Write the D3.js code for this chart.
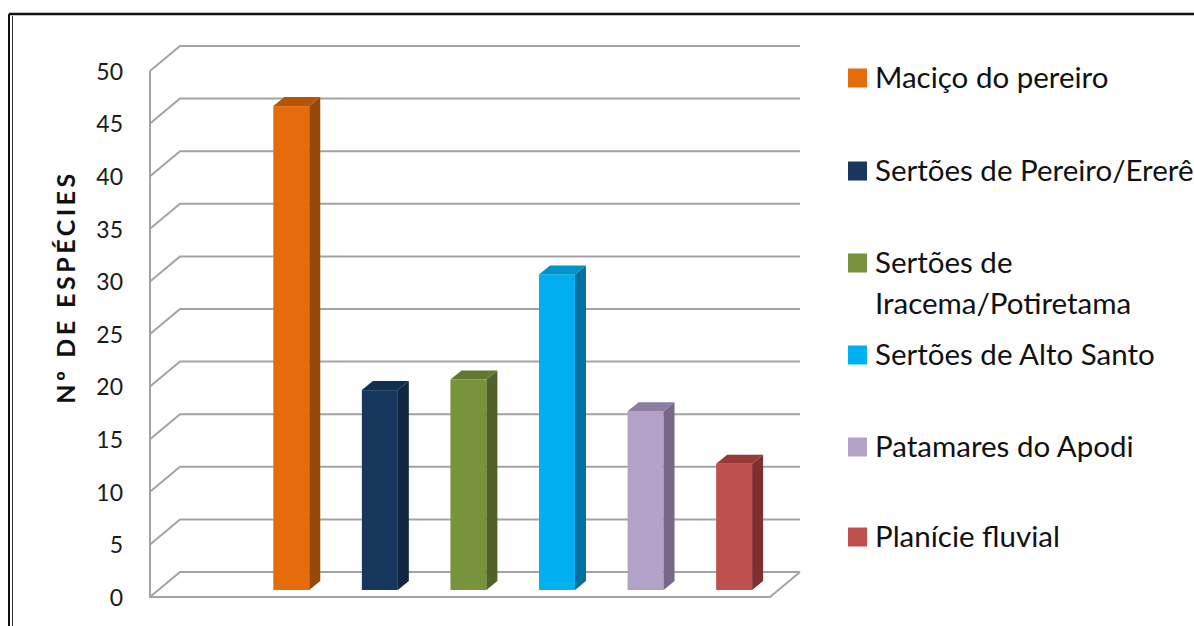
<!DOCTYPE html>
<html>
<head>
<meta charset="UTF-8">
<title>Nº de espécies</title>
<script src="https://d3js.org/d3.v7.min.js"></script>
<style>
  body { margin: 0; background: #fff; }
  svg { display: block; font-family: Lato, "Open Sans", sans-serif; }
  .grid { stroke: #a3a3a3; stroke-width: 2; fill: none; }
  .ticks text { font-family: Lato, sans-serif; font-size: 23px; fill: #1a1a1a; }
  .legend text { font-size: 29.5px; fill: #111; }
</style>
</head>
<body>
<svg width="1194" height="626"></svg>
<script>
// data
const categories = ["Maciço do pereiro", "Sertões de Pereiro/Ererê", "Sertões de Iracema/Potiretama",
                    "Sertões de Alto Santo", "Patamares do Apodi", "Planície fluvial"];
const especies = [46, 19, 20, 30, 17, 12];
const yTicks = [0, 5, 10, 15, 20, 25, 30, 35, 40, 45, 50];
const legendLines = [["Maciço do pereiro"], ["Sertões de Pereiro/Ererê"], ["Sertões de", "Iracema/Potiretama"],
                     ["Sertões de Alto Santo"], ["Patamares do Apodi"], ["Planície fluvial"]];
const front = ["#e46c0a", "#17375e", "#77933c", "#00b0f0", "#b3a2c7", "#c0504d"];
const side  = ["#974806", "#10253f", "#4f6228", "#00719c", "#776888", "#7f302e"];
const top_  = ["#b45608", "#132f50", "#617a30", "#0093c8", "#8c7ca0", "#963a37"];

const svg = d3.select("svg");

// frame
svg.append("line").attr("x1", 9).attr("x2", 1194).attr("y1", 14).attr("y2", 14)
  .attr("stroke", "#111").attr("stroke-width", 2.5);
svg.append("line").attr("x1", 9).attr("x2", 9).attr("y1", 14).attr("y2", 626)
  .attr("stroke", "#111").attr("stroke-width", 2);
svg.append("line").attr("x1", 12.5).attr("x2", 12.5).attr("y1", 16).attr("y2", 626)
  .attr("stroke", "#333").attr("stroke-width", 1);

// 3d geometry
const axX = 150, wallX1 = 800, floorX1 = 770;
const DX = 30, DY = 25;          // depth of the floor / side wall
const BX = 8.4, BY = 7;          // bar front plane inset
const bdx = 11, bdy = 9;         // bar depth

const y = d3.scaleLinear().domain([0, 50]).range([597, 71]);
const x = d3.scaleBand().domain(categories)
  .range([axX + BX + 88.6, floorX1 + BX])
  .paddingInner(0.594).paddingOuter(0.297);

const g = svg.append("g");

// gridlines on the back wall and side wall
yTicks.forEach(t => {
  g.append("path").attr("class", "grid")
    .attr("d", `M${axX},${y(t)} L${axX + DX},${y(t) - DY} L${wallX1},${y(t) - DY}`);
});
// left axis line and floor front edge
g.append("path").attr("class", "grid")
  .attr("d", `M${axX},${y(50)} L${axX},${y(0)} L${floorX1},${y(0)} L${floorX1 + DX},${y(0) - DY}`);

// tick labels
const axis = d3.axisLeft(y).tickValues(yTicks).tickSize(0).tickPadding(27);
g.append("g").attr("class", "ticks").attr("transform", `translate(${axX},0)`)
  .call(axis)
  .call(s => s.attr("font-family", null).attr("font-size", null))
  .call(s => s.select(".domain").remove())
  .selectAll("text").attr("dy", "0.36em");

// bars
const bars = g.selectAll(".bar").data(categories).enter().append("g").attr("class", "bar");
const yb = v => y(v) - BY;
bars.append("rect")
  .attr("x", d => x(d))
  .attr("y", (d, i) => yb(especies[i]))
  .attr("width", x.bandwidth())
  .attr("height", (d, i) => yb(0) - yb(especies[i]))
  .attr("fill", (d, i) => front[i]);
bars.append("path")
  .attr("d", (d, i) => {
    const x1 = x(d) + x.bandwidth(), t = yb(especies[i]), b = yb(0);
    return `M${x1},${t} L${x1 + bdx},${t - bdy} L${x1 + bdx},${b - bdy} L${x1},${b}Z`;
  })
  .attr("fill", (d, i) => side[i]);
bars.append("path")
  .attr("d", (d, i) => {
    const x0 = x(d), x1 = x0 + x.bandwidth(), t = yb(especies[i]);
    return `M${x0},${t} L${x0 + bdx},${t - bdy} L${x1 + bdx},${t - bdy} L${x1},${t}Z`;
  })
  .attr("fill", (d, i) => top_[i]);

// y axis title
svg.append("text")
  .attr("transform", "translate(75,287) rotate(-90)")
  .attr("text-anchor", "middle")
  .style("font-size", "25px").style("font-weight", "bold").style("letter-spacing", "3.5px")
  .attr("fill", "#111")
  .text("Nº DE ESPÉCIES");

// legend
const legendY = [78, 171, 263, 355, 447, 537];
const lg = svg.append("g").attr("class", "legend");
const items = lg.selectAll("g").data(legendLines).enter().append("g")
  .attr("transform", (d, i) => `translate(848,${legendY[i]})`);
items.append("rect").attr("x", 0).attr("y", -9.5).attr("width", 19).attr("height", 19)
  .attr("fill", (d, i) => front[i]);
items.append("text").attr("x", 27)
  .selectAll("tspan").data(d => d).enter().append("tspan")
  .attr("x", 27).attr("dy", (d, j) => j === 0 ? "0.35em" : "41px")
  .text(d => d);
</script>
</body>
</html>
